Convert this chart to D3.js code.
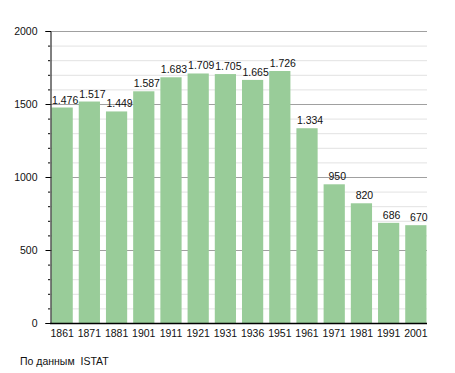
<!DOCTYPE html>
<html>
<head>
<meta charset="utf-8">
<script src="https://cdn.jsdelivr.net/npm/d3@7"></script>
<style>
  html, body { margin: 0; padding: 0; background: #fff; }
  svg { display: block; }
</style>
</head>
<body>
<div id="chart"></div>
<script>
// ============================================================
// Data
// ============================================================
const years = ["1861", "1871", "1881", "1901", "1911", "1921", "1931",
               "1936", "1951", "1961", "1971", "1981", "1991", "2001"];
const population = [1476, 1517, 1449, 1587, 1683, 1709, 1705,
                    1665, 1726, 1334, 950, 820, 686, 670];
const yMajorTicks = [0, 500, 1000, 1500, 2000];
const sourceNote = "По данным  ISTAT";

// ============================================================
// Setup
// ============================================================
const W = 455, H = 373;
const FONT = "'Liberation Sans', Arial, sans-serif";
const FS = "10.5px";
const COLORS = {
  bar: "#99cc99",
  gridMajor: "#a0a0a0",
  gridMinor: "#e2e2e2",
  axis: "#000",
  text: "#111",
};

const m = { left: 50, right: 28, top: 31, bottom: 50 };

const svg = d3.select("#chart").append("svg")
  .attr("width", W)
  .attr("height", H);

const x = d3.scaleBand()
  .domain(years)
  .range([m.left + 1, W - m.right])
  .paddingInner(0.22)
  .paddingOuter(0.02);

const y = d3.scaleLinear()
  .domain([0, 2000])
  .range([H - m.bottom, m.top]);

const fmt = v => d3.format(",")(v).replace(/,/g, ".");

// --- grid ---
const minor = d3.range(100, 2001, 100).filter(v => v % 500 !== 0);
svg.append("g").selectAll("line")
  .data(minor)
  .join("line")
  .attr("x1", m.left).attr("x2", W - m.right)
  .attr("y1", d => y(d) + 0.5).attr("y2", d => y(d) + 0.5)
  .attr("stroke", COLORS.gridMinor);

svg.append("g").selectAll("line")
  .data(yMajorTicks.filter(v => v > 0))
  .join("line")
  .attr("x1", m.left).attr("x2", W - m.right)
  .attr("y1", d => y(d) + 0.5).attr("y2", d => y(d) + 0.5)
  .attr("stroke", COLORS.gridMajor);

// --- bars ---
svg.append("g").selectAll("rect")
  .data(population)
  .join("rect")
  .attr("x", (d, i) => x(years[i]))
  .attr("y", d => y(d))
  .attr("width", x.bandwidth())
  .attr("height", d => y(0) - y(d))
  .attr("fill", COLORS.bar);

// --- value labels (sit slightly right of bar centre, as in the original) ---
svg.append("g").selectAll("text")
  .data(population)
  .join("text")
  .attr("x", (d, i) => x(years[i]) + x.bandwidth() / 2 + 3)
  .attr("y", d => y(d) - 4)
  .attr("text-anchor", "middle")
  .attr("font-family", FONT)
  .attr("font-size", FS)
  .attr("fill", COLORS.text)
  .text(d => fmt(d));

// --- y axis ---
const yAxis = svg.append("g")
  .attr("transform", `translate(${m.left + 0.5},0)`)
  .call(d3.axisLeft(y).tickValues(yMajorTicks).tickFormat(d3.format("d"))
    .tickSize(5).tickPadding(8))
  .call(g => g.select(".domain").attr("stroke", COLORS.axis));
yAxis.selectAll("text")
  .attr("font-family", FONT)
  .attr("font-size", FS)
  .attr("fill", COLORS.text);

// minor ticks
svg.append("g").selectAll("line")
  .data(minor)
  .join("line")
  .attr("x1", m.left - 2).attr("x2", m.left)
  .attr("y1", d => y(d) + 0.5).attr("y2", d => y(d) + 0.5)
  .attr("stroke", COLORS.axis);

// --- x axis ---
const xAxis = svg.append("g")
  .attr("transform", `translate(0,${y(0) + 0.5})`)
  .call(d3.axisBottom(x).tickSize(0).tickPadding(6));
xAxis.select(".domain")
  .attr("d", `M${m.left},0H${W - m.right}`)
  .attr("stroke", COLORS.axis)
  .attr("stroke-width", 1.5);
xAxis.selectAll("text")
  .attr("font-family", FONT)
  .attr("font-size", FS)
  .attr("fill", COLORS.text);

// --- source note ---
svg.append("text")
  .attr("x", 20)
  .attr("y", 365)
  .attr("font-family", FONT)
  .attr("font-size", FS)
  .attr("fill", COLORS.text)
  .style("white-space", "pre")
  .text(sourceNote);
</script>
</body>
</html>
